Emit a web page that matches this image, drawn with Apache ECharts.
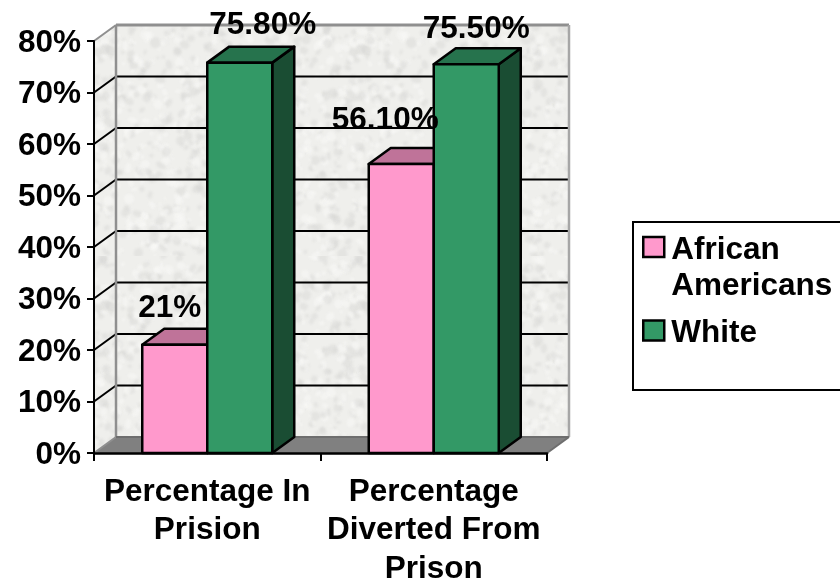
<!DOCTYPE html>
<html>
<head>
<meta charset="utf-8">
<style>html,body{margin:0;padding:0;background:#fff;overflow:hidden}#c{width:840px;height:583px}</style>
<script src="https://cdn.jsdelivr.net/npm/echarts@6/dist/echarts.min.js"></script>
</head>
<body>
<div id="c"></div>
<script>
const categories = ['Percentage In\nPrision', 'Percentage\nDiverted From\nPrison'];
const seriesNames = ['African Americans', 'White'];
const africanAmericans = [21, 56.1];
const white = [75.8, 75.5];
const africanLabels = ['21%', '56.10%'];
const whiteLabels = ['75.80%', '75.50%'];
const yTicks = [0, 10, 20, 30, 40, 50, 60, 70, 80];

const FONT = '"Liberation Sans", Arial, sans-serif';
const FS = 31.5;
const DX = 22, DY = -16;
const BAR_FRAC = 65 / 226.5;
const LABEL_SHIFT = {
  'African Americans': [[-5, -37], [-16, -44]],
  'White': [[23, -37], [10, -35]]
};

// Mottled wall texture (deterministic)
function makeTexture() {
  const cv = document.createElement('canvas');
  cv.width = cv.height = 256;
  const g = cv.getContext('2d');
  g.fillStyle = '#efefec';
  g.fillRect(0, 0, 256, 256);
  g.filter = 'blur(1.2px)';
  let s = 12345;
  const rnd = () => (s = (s * 16807) % 2147483647) / 2147483647;
  for (let i = 0; i < 1100; i++) {
    const x = rnd() * 256, y = rnd() * 256, r = 1.5 + rnd() * 4;
    g.fillStyle = rnd() > 0.5 ? 'rgba(214,214,212,0.45)' : 'rgba(250,250,248,0.5)';
    g.beginPath();
    g.ellipse(x, y, r, r * (0.5 + rnd() * 0.5), rnd() * 3, 0, 6.3);
    g.fill();
  }
  return cv;
}
const texture = makeTexture();

function poly(points, fill, stroke, lw, z2) {
  return {
    type: 'polygon', shape: { points: points }, z2: z2 || 0,
    style: { fill: fill, stroke: stroke || 'none', lineWidth: lw || 0, lineJoin: 'round' }
  };
}
function line(a, b, color, lw, z2) {
  return {
    type: 'line', shape: { x1: a[0], y1: a[1], x2: b[0], y2: b[1] }, z2: z2 || 0,
    style: { stroke: color, lineWidth: lw }
  };
}

function renderWalls(params, api) {
  const cs = params.coordSys;
  const L = cs.x, R = cs.x + cs.width;
  const y0 = api.coord([0, 0])[1], yT = api.coord([0, 80])[1];
  const tex = { image: texture, repeat: 'repeat' };
  const ch = [
    poly([[L + DX, yT + DY], [R + DX, yT + DY], [R + DX, y0 + DY], [L + DX, y0 + DY]], tex),
    poly([[L, yT], [L + DX, yT + DY], [L + DX, y0 + DY], [L, y0]], tex),
    poly([[L, y0], [L + DX, y0 + DY], [R + DX, y0 + DY], [R, y0]], '#808080')
  ];
  yTicks.forEach(function (t) {
    if (t === 0 || t === 80) return;
    const y = api.coord([0, t])[1];
    ch.push(line([L + DX, y + DY], [R + DX - 1, y + DY], '#000', 2, 2));
    ch.push(line([L, y], [L + DX, y + DY], '#000', 2, 2));
  });
  const gray = '#8f8f8f';
  ch.push(line([L + DX, yT + DY], [R + DX, yT + DY], gray, 3, 3));
  ch.push(line([L + DX, yT + DY], [L + DX, y0 + DY], gray, 2.5, 3));
  ch.push(line([R + DX, yT + DY], [R + DX, y0 + DY], '#a6a6a6', 2.5, 3));
  ch.push(line([L, yT], [L + DX, yT + DY], gray, 2, 3));
  ch.push(line([L, y0], [L + DX, y0 + DY], gray, 2, 3));
  ch.push(line([L + DX, y0 + DY], [R + DX, y0 + DY], '#6e6e6e', 2, 3));
  ch.push(line([R, y0], [R + DX, y0 + DY], '#6e6e6e', 2, 3));
  return { type: 'group', children: ch };
}

function barRenderer(offset, front, top, side, labels, shifts) {
  return function (params, api) {
    const i = api.value(0), v = api.value(1);
    const base = api.coord([i, 0]), t = api.coord([i, v]);
    const w = api.size([1, 0])[0] * BAR_FRAC;
    const x0 = base[0] + offset * w, x1 = x0 + w;
    const y0 = base[1], y1 = t[1];
    const sh = shifts[i];
    return {
      type: 'group',
      children: [
        poly([[x1, y0], [x1 + DX, y0 + DY], [x1 + DX, y1 + DY], [x1, y1]], side, '#000', 2.5, 5),
        poly([[x0, y1], [x0 + DX, y1 + DY], [x1 + DX, y1 + DY], [x1, y1]], top, '#000', 2.5, 5),
        poly([[x0, y0], [x0, y1], [x1, y1], [x1, y0]], front, '#000', 2.5, 6),
        {
          type: 'text', z2: 50,
          style: {
            text: labels[i], x: x0 + w / 2 + sh[0], y: y1 + sh[1],
            fill: '#000', font: 'bold ' + FS + 'px ' + FONT,
            align: 'center', verticalAlign: 'middle'
          }
        }
      ]
    };
  };
}

const toData = vals => vals.map((v, i) => [i, v]);
const PINK = '#ff99cc', GREEN = '#339966';
const boldText = { color: '#000', fontWeight: 'bold', fontSize: FS, fontFamily: FONT };

const option = {
  animation: false,
  backgroundColor: '#fff',
  grid: { left: 94, right: 293, top: 41, bottom: 130, containLabel: false, outerBoundsMode: 'none' },
  xAxis: {
    type: 'category', data: categories,
    axisLine: { lineStyle: { color: '#000', width: 2.5 } },
    axisTick: { show: true, interval: 0, length: 8, lineStyle: { color: '#000', width: 2 } },
    axisLabel: { interval: 0, color: '#000', fontWeight: 'bold', fontSize: FS, fontFamily: FONT, lineHeight: 38.5, margin: 20 },
    z: 10
  },
  yAxis: {
    type: 'value', min: 0, max: 80, interval: 10,
    axisLine: { show: true, lineStyle: { color: '#000', width: 2 } },
    axisTick: { show: true, length: 7, lineStyle: { color: '#000', width: 2 } },
    splitLine: { show: false },
    axisLabel: {
      margin: 13, align: 'right',
      formatter: '{s| }\n{t|{value}%}',
      rich: {
        s: { fontSize: 4, lineHeight: 4 },
        t: Object.assign({ lineHeight: 32 }, boldText)
      }
    },
    z: 10
  },
  legend: {
    show: true, orient: 'vertical', left: 642, top: 206, padding: 0,
    itemWidth: 21, itemHeight: 20, itemGap: 8.5, icon: 'rect', selectedMode: false,
    data: [
      { name: seriesNames[0], itemStyle: { color: PINK, borderColor: '#000', borderWidth: 2.5 } },
      { name: seriesNames[1], itemStyle: { color: GREEN, borderColor: '#000', borderWidth: 2.5 } }
    ],
    formatter: n => n === seriesNames[0]
      ? '{a| }\n{t|African}\n{t|Americans}'
      : '{b| }\n{t|' + n + '}',
    textStyle: {
      rich: {
        a: { fontSize: 10, lineHeight: 42 },
        b: { fontSize: 4, lineHeight: 5 },
        t: Object.assign({ lineHeight: 36, padding: [0, 0, 0, 2] }, boldText)
      }
    }
  },
  graphic: [{
    type: 'rect', left: 632, top: 221, z: 0, silent: true,
    shape: { width: 230, height: 168 },
    style: { fill: '#fff', stroke: '#000', lineWidth: 2 }
  }],
  series: [
    { type: 'custom', name: 'walls', silent: true, z: 1, data: [[0, 0]], encode: { x: 0, y: 1 }, renderItem: renderWalls },
    {
      type: 'custom', name: seriesNames[0], z: 2, data: toData(africanAmericans), encode: { x: 0, y: 1 },
      itemStyle: { color: PINK },
      renderItem: barRenderer(-1, PINK, '#bf7399', '#804d66', africanLabels, LABEL_SHIFT[seriesNames[0]])
    },
    {
      type: 'custom', name: seriesNames[1], z: 2, data: toData(white), encode: { x: 0, y: 1 },
      itemStyle: { color: GREEN },
      renderItem: barRenderer(0, GREEN, '#26734d', '#1a4d33', whiteLabels, LABEL_SHIFT[seriesNames[1]])
    }
  ]
};
echarts.init(document.getElementById('c')).setOption(option);
</script>
</body>
</html>
